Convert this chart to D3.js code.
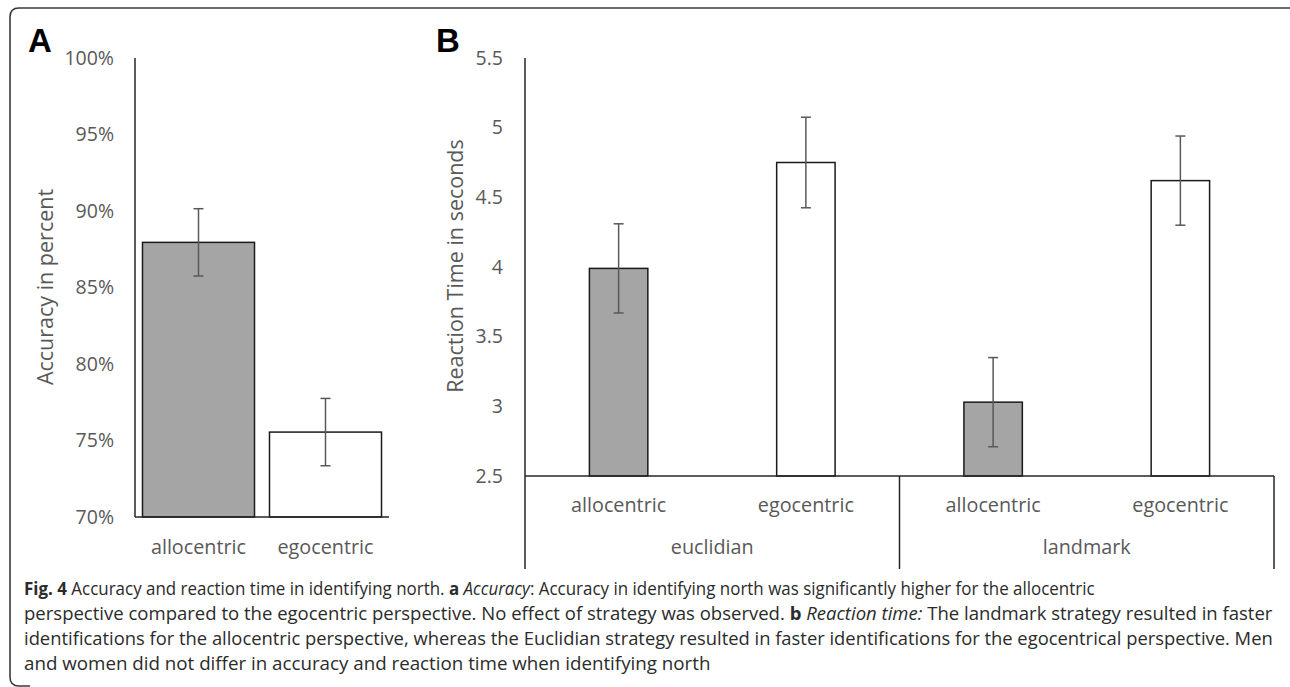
<!DOCTYPE html>
<html>
<head>
<meta charset="utf-8">
<script src="https://cdn.jsdelivr.net/npm/d3@7"></script>
<style>
  body { margin: 0; background: #fff; }
  svg { display: block; }
  .tick text { fill: #595959; font-family: "Open Sans", sans-serif; font-size: 19.5px; }
</style>
</head>
<body>
<svg id="fig" width="1290" height="687"></svg>
<script>
// panel A: accuracy
var accCats = ["allocentric", "egocentric"];
var accMean = [87.95, 75.55];
var accErr = [2.2, 2.2];
var accTicks = [70, 75, 80, 85, 90, 95, 100];

// panel B: reaction time, grouped by strategy
var rtGroups = ["euclidian", "landmark"];
var rtCats = ["allocentric", "egocentric"];
var rtMean = [[3.99, 4.75], [3.03, 4.62]];
var rtErr = [[0.32, 0.325], [0.32, 0.32]];
var rtTicks = [2.5, 3, 3.5, 4, 4.5, 5, 5.5];

var barFill = { allocentric: "#a5a5a5", egocentric: "#ffffff" };

var caption = [
  [["Fig. 4", "b"], [" Accuracy and reaction time in identifying north. ", ""], ["a", "b"], [" ", ""], ["Accuracy", "i"], [": Accuracy in identifying north was significantly higher for the allocentric", ""]],
  [["perspective compared to the egocentric perspective. No effect of strategy was observed. ", ""], ["b", "b"], [" ", ""], ["Reaction time:", "i"], [" The landmark strategy resulted in faster", ""]],
  [["identifications for the allocentric perspective, whereas the Euclidian strategy resulted in faster identifications for the egocentrical perspective. Men", ""]],
  [["and women did not differ in accuracy and reaction time when identifying north", ""]]
];
var captionWidths = [1071, 1249, 1249, 687];

var svg = d3.select("#fig");
var font = "'Open Sans', sans-serif";
var axisCol = "#262626";
var labelSize = 19.8, titleSize = 21.5;

// frame
svg.append("path")
  .attr("d", "M1292,8 H19 Q10,8 10,17 V677 Q10,686 19,686 H30")
  .attr("fill", "none").attr("stroke", "#3a3a3a").attr("stroke-width", 1.6);

// ---------- panel A ----------
var yA = d3.scaleLinear().domain([70, 100]).range([517, 58]);
var xA = d3.scaleBand().domain(accCats).range([135, 389]).paddingInner(0.118).paddingOuter(0.059);

var gA = svg.append("g");
gA.append("g").attr("transform", "translate(135,0)")
  .call(d3.axisLeft(yA).tickValues(accTicks).tickSize(0).tickPadding(21).tickFormat(function(d){ return d + "%"; }))
  .call(function(g){ g.select(".domain").remove(); });

gA.selectAll("rect.bar").data(accCats).enter().append("rect")
  .attr("x", function(d){ return xA(d); })
  .attr("y", function(d, i){ return yA(accMean[i]); })
  .attr("width", xA.bandwidth())
  .attr("height", function(d, i){ return yA(70) - yA(accMean[i]); })
  .attr("fill", function(d){ return barFill[d]; })
  .attr("stroke", "#1a1a1a").attr("stroke-width", 1.5);

accCats.forEach(function(c, i){
  var cx = xA(c) + xA.bandwidth() / 2;
  var t = yA(accMean[i] + accErr[i]), b = yA(accMean[i] - accErr[i]);
  var e = gA.append("g").attr("stroke", "#595959").attr("stroke-width", 1.5);
  e.append("line").attr("x1", cx).attr("x2", cx).attr("y1", t).attr("y2", b);
  e.append("line").attr("x1", cx - 5).attr("x2", cx + 5).attr("y1", t).attr("y2", t);
  e.append("line").attr("x1", cx - 5).attr("x2", cx + 5).attr("y1", b).attr("y2", b);
  gA.append("text").attr("x", cx).attr("y", 554).attr("text-anchor", "middle")
    .attr("font-family", font).attr("font-size", labelSize).attr("fill", "#595959").text(c);
});

gA.append("line").attr("x1", 135).attr("x2", 135).attr("y1", yA(100)).attr("y2", yA(70))
  .attr("stroke", axisCol).attr("stroke-width", 1.5);
gA.append("line").attr("x1", 135).attr("x2", 389).attr("y1", yA(70)).attr("y2", yA(70))
  .attr("stroke", axisCol).attr("stroke-width", 1.5);

gA.append("text").attr("transform", "translate(44,287) rotate(-90)")
  .attr("text-anchor", "middle").attr("dominant-baseline", "central")
  .attr("font-family", font).attr("font-size", titleSize).attr("fill", "#595959")
  .text("Accuracy in percent");

svg.append("text").attr("x", 28).attr("y", 52)
  .attr("font-family", "'Liberation Sans', Arial, sans-serif").attr("font-weight", "bold")
  .attr("font-size", 33).attr("fill", "#000").text("A");

// ---------- panel B ----------
var yB = d3.scaleLinear().domain([2.5, 5.5]).range([476, 58]);
var xG = d3.scaleBand().domain(rtGroups).range([525, 1274]);
var xC = d3.scaleBand().domain(rtCats).range([0, xG.bandwidth()]).paddingInner(0.688).paddingOuter(0.344);
var axisBottomY = 569;

var gB = svg.append("g");
gB.append("g").attr("transform", "translate(525,0)")
  .call(d3.axisLeft(yB).tickValues(rtTicks).tickSize(0).tickPadding(22).tickFormat(function(d){ return String(d); }))
  .call(function(g){ g.select(".domain").remove(); });

rtGroups.forEach(function(grp, gi){
  rtCats.forEach(function(c, ci){
    var x0 = xG(grp) + xC(c);
    var v = rtMean[gi][ci], er = rtErr[gi][ci];
    gB.append("rect")
      .attr("x", x0).attr("y", yB(v))
      .attr("width", xC.bandwidth()).attr("height", yB(2.5) - yB(v))
      .attr("fill", barFill[c]).attr("stroke", "#1a1a1a").attr("stroke-width", 1.5);
    var cx = x0 + xC.bandwidth() / 2;
    var t = yB(v + er), b = yB(v - er);
    var e = gB.append("g").attr("stroke", "#595959").attr("stroke-width", 1.5);
    e.append("line").attr("x1", cx).attr("x2", cx).attr("y1", t).attr("y2", b);
    e.append("line").attr("x1", cx - 5).attr("x2", cx + 5).attr("y1", t).attr("y2", t);
    e.append("line").attr("x1", cx - 5).attr("x2", cx + 5).attr("y1", b).attr("y2", b);
    gB.append("text").attr("x", cx).attr("y", 512).attr("text-anchor", "middle")
      .attr("font-family", font).attr("font-size", labelSize).attr("fill", "#595959").text(c);
  });
  gB.append("text").attr("x", xG(grp) + xG.bandwidth() / 2).attr("y", 554).attr("text-anchor", "middle")
    .attr("font-family", font).attr("font-size", labelSize).attr("fill", "#595959").text(grp);
});

// multi-level category axis
gB.append("line").attr("x1", 525).attr("x2", 525).attr("y1", yB(5.5)).attr("y2", axisBottomY)
  .attr("stroke", axisCol).attr("stroke-width", 1.5);
gB.append("line").attr("x1", 525).attr("x2", xG.range()[1]).attr("y1", yB(2.5)).attr("y2", yB(2.5))
  .attr("stroke", axisCol).attr("stroke-width", 1.5);
rtGroups.forEach(function(grp){
  var xe = xG(grp) + xG.bandwidth();
  gB.append("line").attr("x1", xe).attr("x2", xe).attr("y1", yB(2.5)).attr("y2", axisBottomY)
    .attr("stroke", axisCol).attr("stroke-width", 1.5);
});

gB.append("text").attr("transform", "translate(454,266) rotate(-90)")
  .attr("text-anchor", "middle").attr("dominant-baseline", "central")
  .attr("font-family", font).attr("font-size", titleSize).attr("fill", "#595959")
  .text("Reaction Time in seconds");

svg.append("text").attr("x", 436).attr("y", 52)
  .attr("font-family", "'Liberation Sans', Arial, sans-serif").attr("font-weight", "bold")
  .attr("font-size", 33).attr("fill", "#000").text("B");

// ---------- caption ----------
var capBase = [595, 620, 645, 670];
caption.forEach(function(line, li){
  var g = svg.append("g");
  var txt = g.append("text").attr("font-family", font).attr("font-size", 17.5).attr("fill", "#2b2b2b")
    .attr("xml:space", "preserve");
  line.forEach(function(seg){
    txt.append("tspan").text(seg[0])
      .attr("font-weight", seg[1] === "b" ? "bold" : null)
      .attr("font-style", seg[1] === "i" ? "italic" : null);
  });
  var w = txt.node().getComputedTextLength();
  var sx = captionWidths[li] / w;
  g.attr("transform", "translate(24," + capBase[li] + ") scale(" + sx + ",1)");
});
</script>
</body>
</html>
